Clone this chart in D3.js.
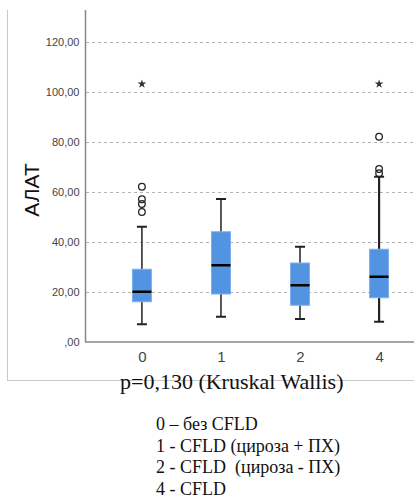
<!DOCTYPE html>
<html><head><meta charset="utf-8">
<script src="https://cdn.jsdelivr.net/npm/d3@7"></script>
<style>body{margin:0;background:#fff}svg{display:block}</style>
</head><body>
<svg id="c" width="414" height="500"></svg>
<script>
const categories = ["0","1","2","4"];
const q1 =      [16.1, 19.2, 14.7, 17.7];
const median =  [20.1, 30.7, 22.7, 26.1];
const q3 =      [29.1, 44.1, 31.6, 37.1];
const whiskLo = [7.1, 10.1, 9.2, 8.1];
const whiskHi = [46.1, 57.2, 38.1, 66.1];
const outlierCat = ["0","0","0","0","4","4","4"];
const outlierVal = [62.1, 57.1, 55.2, 52.0, 82.1, 69.2, 67.5];
const extremeCat = ["0","4"];
const extremeVal = [103.2, 103.2];
const yTicks = [0, 20, 40, 60, 80, 100, 120];
const yTickLabels = [",00","20,00","40,00","60,00","80,00","100,00","120,00"];
const yTitle = "АЛАТ";
const note = "p=0,130 (Kruskal Wallis)";
const legendLines = ["0 – без CFLD","1 - CFLD (цироза + ПХ)","2 - CFLD  (цироза - ПХ)","4 - CFLD"];

const svg = d3.select("#c");
const x = d3.scalePoint().domain(categories).range([85, 436]).padding(0.72);
const y = d3.scaleLinear().domain([0, 132.8]).range([342, 10]);

// outer frame
svg.append("line").attr("x1",7.5).attr("x2",7.5).attr("y1",10).attr("y2",380.5).attr("stroke","#c8c8c8");
svg.append("line").attr("x1",7).attr("x2",414).attr("y1",380.5).attr("y2",380.5).attr("stroke","#c8c8c8");

// gridlines
svg.append("g").selectAll("line").data(yTicks.filter(d=>d>0)).join("line")
  .attr("x1",86).attr("x2",414).attr("y1",d=>Math.round(y(d))+0.5).attr("y2",d=>Math.round(y(d))+0.5)
  .attr("stroke","#b4b4b4").attr("stroke-dasharray","3,3");

// y axis
const ya = svg.append("g").attr("transform","translate(85.5,0)")
  .call(d3.axisLeft(y).tickValues(yTicks).tickSize(0).tickPadding(6).tickFormat((d,i)=>yTickLabels[i]));
ya.select(".domain").attr("d","M0,10V342").attr("stroke","#888").attr("stroke-width",1.5);
ya.selectAll("text").attr("font-family","Arial, 'Liberation Sans', sans-serif").attr("font-size",11).attr("fill","#444");

// x axis
const xa = svg.append("g").attr("transform","translate(0,342)")
  .call(d3.axisBottom(x).tickSize(0).tickPadding(9));
xa.select(".domain").attr("d","M85,0H414").attr("stroke","#888").attr("stroke-width",1.5);
xa.selectAll("text").attr("font-family","Arial, 'Liberation Sans', sans-serif").attr("font-size",15).attr("fill","#444");

// y title
svg.append("text").attr("transform","translate(39,190) rotate(-90)").attr("text-anchor","middle")
  .attr("font-family","Arial, 'Liberation Sans', sans-serif").attr("font-size",21).attr("fill","#111").text(yTitle);

// boxes
const bw = 19, cw = 10;
const g = svg.append("g");
categories.forEach((c,i)=>{
  const cx = x(c);
  const sw = c==="4" ? 2.2 : 1.5;
  g.append("line").attr("x1",cx).attr("x2",cx).attr("y1",y(whiskHi[i])).attr("y2",y(whiskLo[i])).attr("stroke","#222").attr("stroke-width",sw);
  [whiskHi[i], whiskLo[i]].forEach(v=>{
    g.append("line").attr("x1",cx-cw/2).attr("x2",cx+cw/2).attr("y1",y(v)).attr("y2",y(v)).attr("stroke","#222").attr("stroke-width",2);
  });
  g.append("rect").attr("x",cx-bw/2).attr("width",bw).attr("y",y(q3[i])).attr("height",y(q1[i])-y(q3[i]))
    .attr("fill","#5294e2").attr("stroke","#7eb0ec").attr("stroke-width",1);
  g.append("line").attr("x1",cx-bw/2).attr("x2",cx+bw/2).attr("y1",y(median[i])).attr("y2",y(median[i])).attr("stroke","#000").attr("stroke-width",2.5);
});

// outliers
g.selectAll("circle").data(outlierVal).join("circle")
  .attr("cx",(d,i)=>x(outlierCat[i])).attr("cy",d=>y(d)).attr("r",3.3)
  .attr("fill","none").attr("stroke","#222").attr("stroke-width",1.3);
g.selectAll("path.ext").data(extremeVal).join("path").attr("class","ext")
  .attr("transform",(d,i)=>`translate(${x(extremeCat[i])},${y(d)})`)
  .attr("d", d3.symbol(d3.symbolStar, 24)()).attr("fill","#333");

// bottom text
svg.append("text").attr("x",120).attr("y",389).attr("font-family","'Liberation Serif', 'Times New Roman', serif")
  .attr("font-size",22).attr("fill","#111").text(note);
svg.append("g").selectAll("text").data(legendLines).join("text")
  .attr("x",156).attr("y",(d,i)=>430+i*21.7).attr("font-family","'Liberation Serif', 'Times New Roman', serif")
  .attr("font-size",18).attr("fill","#111").attr("xml:space","preserve").style("white-space","pre").text(d=>d);
</script>
</body></html>
